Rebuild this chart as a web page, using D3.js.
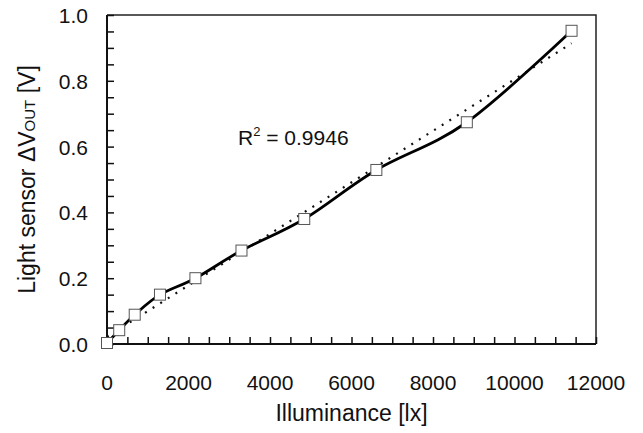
<!DOCTYPE html>
<meta charset="utf-8">
<style>
  body { margin: 0; background: #fff; }
  text { font-family: "Liberation Sans", Arial, sans-serif; fill: #111; }
</style>
<body>
<div id="chart"></div>
<script src="https://d3js.org/d3.v7.min.js"></script>
<script>
  // values
  var illuminance = [0, 300, 680, 1300, 2170, 3300, 4840, 6610, 8830, 11400];
  var vout = [0.003, 0.042, 0.089, 0.150, 0.200, 0.284, 0.380, 0.529, 0.674, 0.952];
  var xTickValues = [0, 2000, 4000, 6000, 8000, 10000, 12000];
  var yTickValues = [0, 0.2, 0.4, 0.6, 0.8, 1.0];
  var rSquaredLabel = "0.9946";

  var width = 643, height = 433;
  var plotLeft = 107, plotRight = 596, plotTop = 15, plotBottom = 344;

  var svg = d3.select("#chart").append("svg")
    .attr("width", width)
    .attr("height", height);

  var x = d3.scaleLinear().domain([0, 12000]).range([plotLeft, plotRight]);
  var y = d3.scaleLinear().domain([0, 1]).range([plotBottom, plotTop]);

  var points = illuminance.map(function(v, i) { return {x: v, y: vout[i]}; });

  // frame (top + right)
  svg.append("path")
    .attr("d", "M" + plotLeft + "," + plotTop + "H" + plotRight + "V" + plotBottom)
    .attr("fill", "none")
    .attr("stroke", "#222")
    .attr("stroke-width", 1.5);

  // minor/major ticks, pointing inward
  var xAxis = d3.axisBottom(x).tickValues(d3.range(0, 12001, 500)).tickSize(-7).tickFormat("");
  var yAxis = d3.axisLeft(y).tickValues(d3.range(0, 1.0001, 0.05)).tickSize(-7).tickFormat("");

  var gx = svg.append("g").attr("transform", "translate(0," + plotBottom + ")").call(xAxis);
  var gy = svg.append("g").attr("transform", "translate(" + plotLeft + ",0)").call(yAxis);
  [gx, gy].forEach(function(g) {
    g.select(".domain").attr("stroke", "#111").attr("stroke-width", 2);
    g.selectAll(".tick line").attr("stroke", "#111").attr("stroke-width", 1.5);
  });
  gx.select(".domain").attr("d", "M" + plotLeft + ",0H" + plotRight);
  gy.select(".domain").attr("d", "M0," + plotTop + "V" + plotBottom);

  // tick labels
  svg.selectAll("text.xt").data(xTickValues).enter().append("text")
    .attr("class", "xt")
    .attr("x", function(d) { return x(d); })
    .attr("y", 390)
    .attr("text-anchor", "middle")
    .attr("font-size", 21)
    .text(function(d) { return d; });

  svg.selectAll("text.yt").data(yTickValues).enter().append("text")
    .attr("class", "yt")
    .attr("x", 88)
    .attr("y", function(d) { return y(d) + 8; })
    .attr("text-anchor", "end")
    .attr("font-size", 21)
    .text(function(d) { return d.toFixed(1); });

  // axis titles
  svg.append("text")
    .attr("x", (plotLeft + plotRight) / 2)
    .attr("y", 421)
    .attr("text-anchor", "middle")
    .attr("font-size", 23)
    .text("Illuminance [lx]");

  var yt = svg.append("text")
    .attr("transform", "translate(35," + ((plotTop + plotBottom) / 2) + ") rotate(-90)")
    .attr("text-anchor", "middle")
    .attr("font-size", 23);
  yt.append("tspan").text("Light sensor \u0394V");
  yt.append("tspan").attr("font-size", 15).text("OUT");
  yt.append("tspan").text(" [V]");

  // linear trendline (least squares through the data)
  var mx = d3.mean(illuminance), my = d3.mean(vout);
  var sxy = d3.sum(points, function(p) { return (p.x - mx) * (p.y - my); });
  var sxx = d3.sum(points, function(p) { return (p.x - mx) * (p.x - mx); });
  var slope = sxy / sxx, intercept = my - slope * mx;
  var xExt = d3.extent(illuminance);

  svg.append("line")
    .attr("x1", x(xExt[0])).attr("y1", y(intercept + slope * xExt[0]))
    .attr("x2", x(xExt[1])).attr("y2", y(intercept + slope * xExt[1]))
    .attr("stroke", "#111")
    .attr("stroke-width", 2.2)
    .attr("stroke-dasharray", "2,7");

  // measured curve
  var line = d3.line()
    .x(function(d) { return x(d.x); })
    .y(function(d) { return y(d.y); })
    .curve(d3.curveCatmullRom.alpha(0));

  svg.append("path")
    .datum(points)
    .attr("d", line)
    .attr("fill", "none")
    .attr("stroke", "#000")
    .attr("stroke-width", 2.8);

  svg.selectAll("rect.pt").data(points).enter().append("rect")
    .attr("class", "pt")
    .attr("x", function(d) { return x(d.x) - 5.5; })
    .attr("y", function(d) { return y(d.y) - 5.5; })
    .attr("width", 11)
    .attr("height", 11)
    .attr("fill", "#fff")
    .attr("stroke", "#555")
    .attr("stroke-width", 1);

  // R squared annotation
  var r2 = svg.append("text")
    .attr("x", 238)
    .attr("y", 145)
    .attr("font-size", 21);
  r2.append("tspan").text("R");
  r2.append("tspan").attr("font-size", 13).attr("dy", -9).text("2");
  r2.append("tspan").attr("dy", 9).text(" = " + rSquaredLabel);
</script>
</body>
